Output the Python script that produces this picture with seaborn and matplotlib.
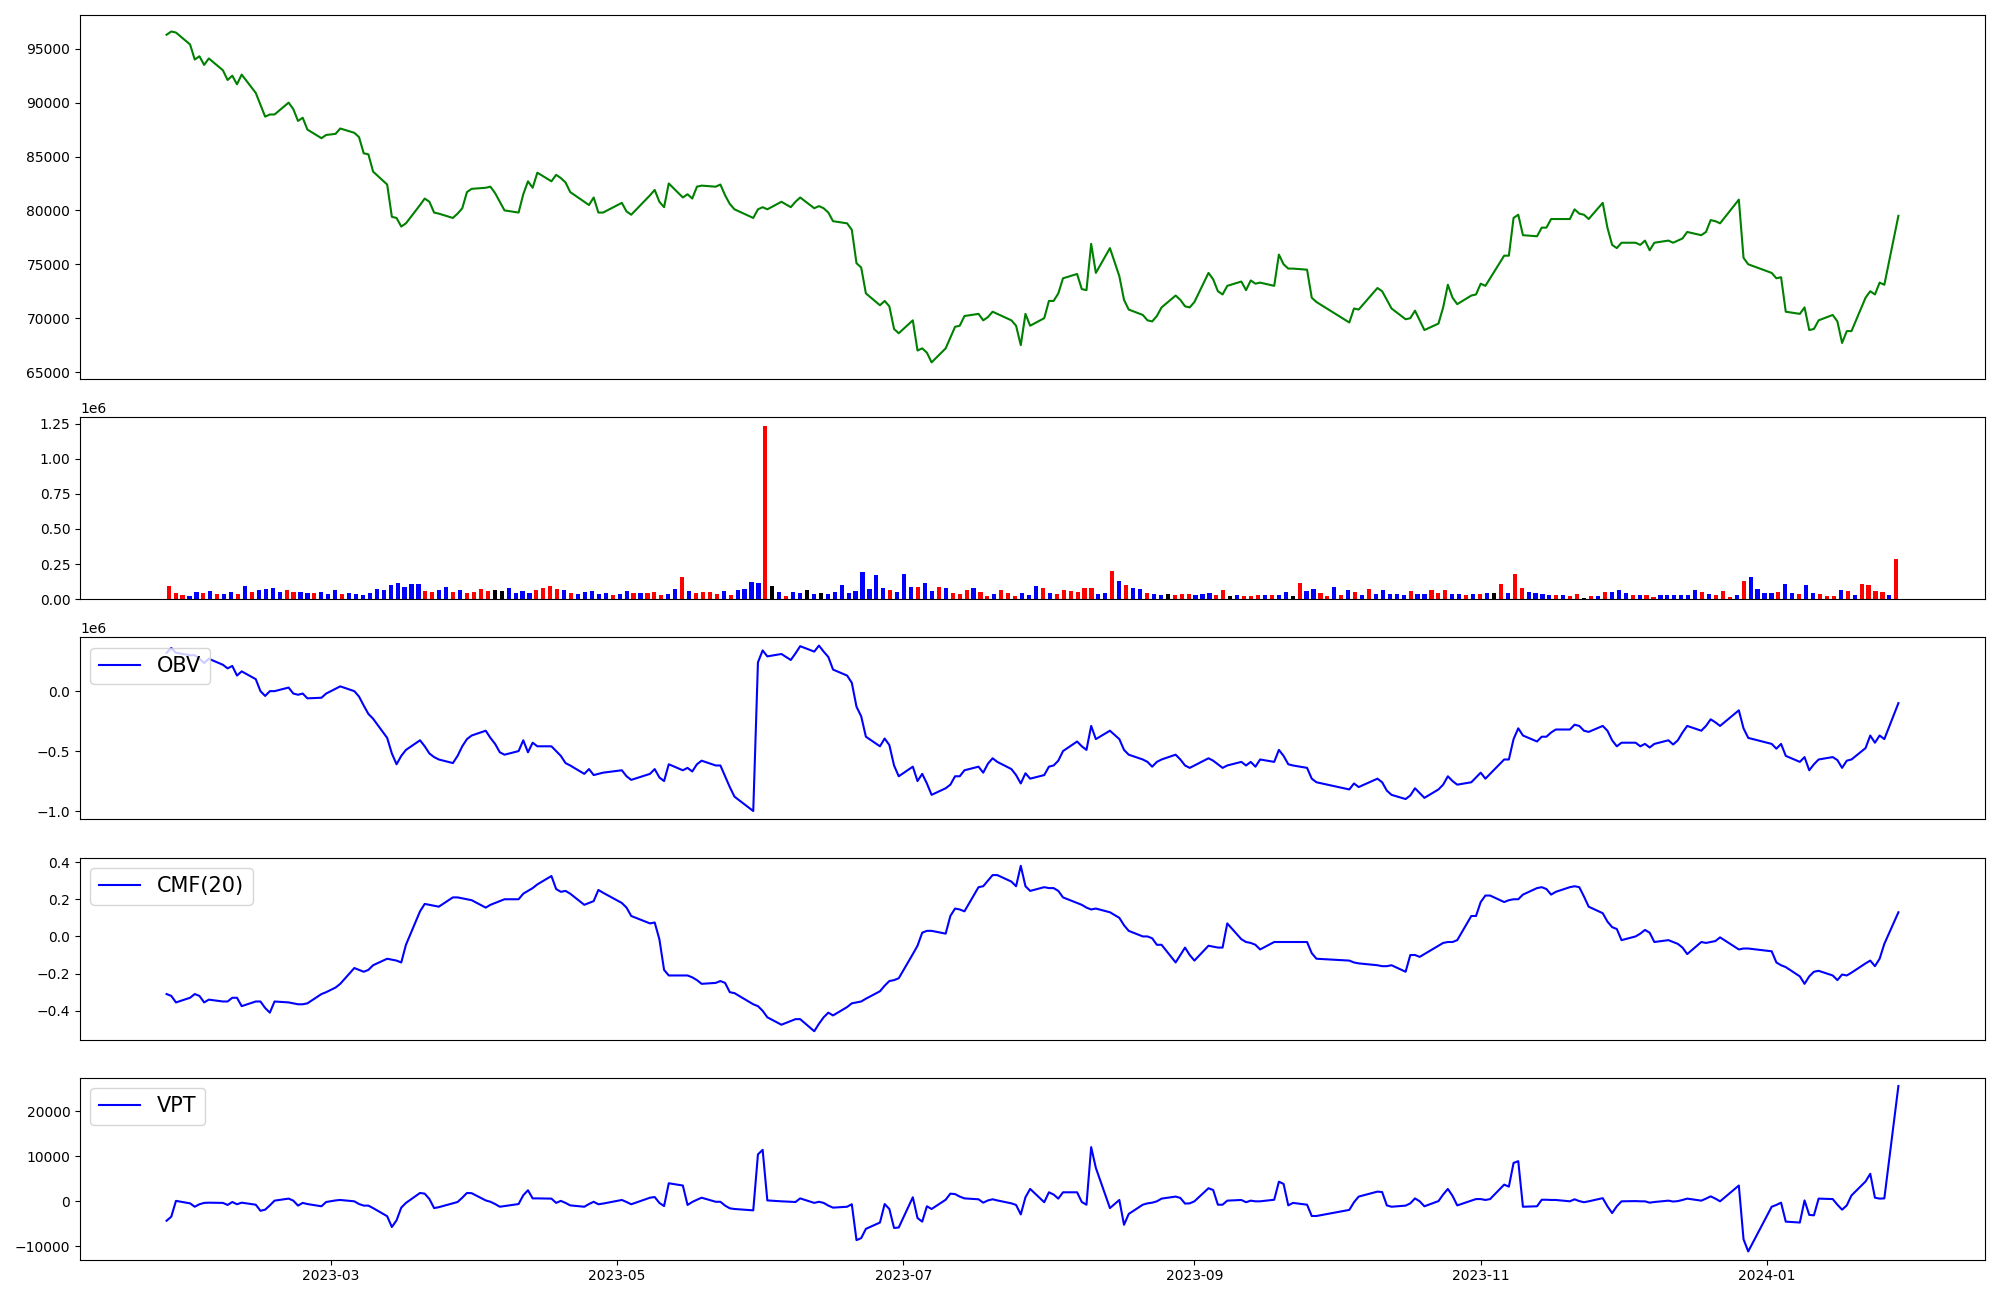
import numpy as np
import pandas as pd
import matplotlib
matplotlib.use("Agg")
import matplotlib.pyplot as plt
import seaborn as sns

# === trading calendar (KRX, 2023-01-25 .. 2024-01-29) ===
KRX_HOLIDAYS = ["2023-03-01", "2023-05-01", "2023-05-05", "2023-05-29", "2023-06-06",
                "2023-08-15", "2023-09-28", "2023-09-29", "2023-10-02", "2023-10-03",
                "2023-10-09", "2023-12-25", "2023-12-29", "2024-01-01"]
dates = pd.bdate_range("2023-01-25", "2024-01-29", freq="C", holidays=KRX_HOLIDAYS)

# close price
price = [
    96300, 96600, 96500, 95400, 94000,  # Jan
    94300, 93500, 94100, 93000, 92100, 92500, 91700, 92600, 90900, 89800,
    88700, 88900, 88900, 90000, 89400, 88300, 88600, 87500, 86700, 87000,  # Feb
    87100, 87600, 87200, 86800, 85300, 85200, 83600, 82400, 79400, 79300, 78500,
    78800, 80500, 81100, 80800, 79800, 79700, 79300, 79700, 80200, 81700, 82000,  # Mar
    82100, 82200, 81600, 80800, 80000, 79800, 81500, 82700, 82100, 83500,
    82700, 83300, 83000, 82600, 81700, 80800, 80500, 81200, 79800, 79800,  # Apr
    80700, 79900, 79600, 81400, 81900, 80800, 80300, 82500, 81200, 81500,
    81100, 82200, 82300, 82200, 82400, 81400, 80600, 80100, 79300, 80100,  # May
    80300, 80100, 80800, 80300, 80800, 81200, 80200, 80400, 80200, 79800, 79000,
    78800, 78200, 75100, 74700, 72300, 71200, 71600, 71100, 69000, 68600,  # Jun
    69800, 67000, 67200, 66800, 65900, 67200, 68200, 69200, 69300, 70200, 70400,
    69800, 70100, 70600, 70400, 69800, 69300, 67500, 70400, 69300, 70000,  # Jul
    71600, 71600, 72300, 73700, 74100, 72700, 72600, 76900, 74200, 76500, 73900,
    71700, 70800, 70300, 69800, 69700, 70200, 71000, 72100, 71700, 71100, 71000,  # Aug
    71500, 74200, 73600, 72500, 72200, 73000, 73400, 72600, 73500, 73200,
    73300, 73000, 75900, 75000, 74600, 74600, 74500, 71900, 71500,  # Sep
    69600, 70900, 70800, 72800, 72500, 71700, 70900, 69900, 70000, 70700,
    69800, 68900, 69500, 71000, 73100, 71900, 71300, 72100, 72200,  # Oct
    73200, 73000, 73700, 75800, 75800, 79300, 79600, 77700, 77600, 78400, 78400,
    79200, 79200, 79200, 80100, 79700, 79600, 79200, 80700, 78400, 76800, 76500,  # Nov
    77000, 77000, 76800, 77200, 76300, 77000, 77200, 77000, 77200, 77400,
    78000, 77700, 78000, 79100, 79000, 78800, 81000, 75600, 75000,  # Dec
    74200, 73700, 73800, 70600, 70400, 71000, 68900, 69000, 69800, 70300,
    69700, 67700, 68800, 68800, 71900, 72500, 72200, 73300, 73100, 79500,  # Jan 2024
]

# daily volume, thousands of shares
volume_k = [
    94, 45, 31, 24, 52, 45, 59, 38, 38, 52, 38, 94, 52, 66, 73, 80,
    52, 66, 52, 52, 45, 45, 52, 38, 66, 38, 45, 38, 31, 45, 73, 66,
    101, 116, 87, 108, 108, 59, 52, 66, 87, 52, 66, 45, 52, 73, 59, 66,
    59, 80, 45, 59, 45, 66, 80, 94, 73, 66, 45, 38, 52, 59, 38, 45,
    31, 38, 59, 45, 45, 45, 52, 31, 38, 73, 158, 59, 45, 52, 52, 38,
    59, 31, 66, 73, 123, 116, 1235, 94, 52, 24, 52, 45, 66, 38, 45, 38,
    52, 101, 45, 59, 193, 73, 172, 80, 66, 52, 179, 87, 87, 116, 59, 87,
    80, 45, 38, 66, 80, 52, 24, 38, 66, 45, 24, 45, 31, 94, 80, 45,
    38, 66, 59, 52, 80, 80, 38, 45, 200, 130, 101, 80, 73, 45, 38, 31,
    38, 31, 38, 38, 31, 38, 45, 31, 66, 24, 31, 24, 24, 31, 31, 31,
    31, 52, 24, 116, 59, 73, 45, 24, 87, 31, 66, 52, 31, 73, 38, 66,
    38, 38, 31, 59, 38, 38, 66, 45, 66, 38, 38, 31, 38, 38, 45, 45,
    108, 45, 179, 80, 52, 45, 38, 31, 31, 31, 24, 38, 9, 24, 24, 52,
    52, 66, 45, 31, 31, 31, 17, 31, 31, 31, 31, 31, 66, 52, 38, 31,
    59, 17, 31, 130, 158, 73, 45, 45, 52, 108, 45, 38, 101, 45, 38, 24,
    24, 66, 59, 31, 108, 101, 59, 52, 31, 285,
]

# bar colour code per day: r = up, b = down, k = unchanged
direction = list(
    "rrrbbrbrbbrbrbbb" "brrbbrbbbrbbbbbb" "bbbbbrrbbrbrrrrk" "kbbbbrrrrbrbbbbb"
    "rbbrbrrrbbrbrrrr" "brbbbbrkbrbbkbkb" "bbbbbbbbrbbbrbbr" "brrrbrrbrrrbbbrb"
    "rrrrrrbbrbrbbrbb" "krrrbbbrrkbrrrbr" "bbkrbbrrbrbrbrbb" "bbbrbbrrrbbrbrbk"
    "rbrrbbbbrbrrkrbr" "bbbrbrrbbbbbbrbr" "rrbrbbbbrbbrbbrr" "rbrbrrrrbr"
)

# on-balance volume, millions
obv_m = [
    0.32, 0.36, 0.32, 0.30, 0.30,
    0.27, 0.235, 0.27, 0.22, 0.19, 0.21, 0.13, 0.165, 0.10, 0.0,
    -0.04, 0.0, 0.0, 0.03, -0.02, -0.03, -0.02, -0.06, -0.055, -0.02,
    0.02, 0.04, 0.0, -0.045, -0.12, -0.19, -0.23, -0.39, -0.52, -0.61, -0.54,
    -0.49, -0.41, -0.46, -0.52, -0.55, -0.57, -0.60, -0.54, -0.46, -0.40, -0.37,
    -0.33, -0.39, -0.44, -0.51, -0.53, -0.50, -0.41, -0.51, -0.43, -0.46,
    -0.46, -0.50, -0.54, -0.60, -0.62, -0.69, -0.65, -0.70, -0.69, -0.68,
    -0.66, -0.71, -0.74, -0.69, -0.65, -0.72, -0.75, -0.61, -0.66, -0.64,
    -0.67, -0.61, -0.58, -0.62, -0.62, -0.71, -0.80, -0.88, -1.0, 0.24,
    0.34, 0.29, 0.31, 0.26, 0.315, 0.375, 0.33, 0.38, 0.33, 0.285, 0.18,
    0.13, 0.07, -0.13, -0.21, -0.38, -0.46, -0.395, -0.45, -0.62, -0.71,
    -0.63, -0.75, -0.69, -0.77, -0.865, -0.81, -0.78, -0.71, -0.71, -0.66, -0.63,
    -0.68, -0.605, -0.56, -0.59, -0.65, -0.70, -0.77, -0.685, -0.73, -0.70,
    -0.63, -0.62, -0.58, -0.50, -0.42, -0.46, -0.49, -0.29, -0.40, -0.33, -0.40,
    -0.49, -0.53, -0.57, -0.59, -0.63, -0.59, -0.57, -0.53, -0.57, -0.62, -0.64,
    -0.62, -0.56, -0.58, -0.61, -0.64, -0.62, -0.59, -0.62, -0.59, -0.63,
    -0.57, -0.59, -0.49, -0.54, -0.61, -0.62, -0.64, -0.73, -0.76,
    -0.82, -0.77, -0.80, -0.73, -0.76, -0.83, -0.865, -0.90, -0.87, -0.81,
    -0.85, -0.89, -0.82, -0.78, -0.71, -0.75, -0.78, -0.76, -0.72,
    -0.68, -0.73, -0.69, -0.57, -0.57, -0.40, -0.31, -0.37, -0.42, -0.38, -0.38,
    -0.345, -0.32, -0.32, -0.28, -0.29, -0.33, -0.34, -0.29, -0.33, -0.41, -0.46,
    -0.43, -0.43, -0.46, -0.44, -0.47, -0.44, -0.41, -0.445, -0.41, -0.345,
    -0.29, -0.33, -0.29, -0.235, -0.26, -0.29, -0.16, -0.31, -0.39,
    -0.44, -0.48, -0.44, -0.54, -0.59, -0.55, -0.66, -0.61, -0.57, -0.55,
    -0.575, -0.64, -0.58, -0.57, -0.475, -0.37, -0.43, -0.37, -0.40, -0.10,
]

# Chaikin money flow, 20 days
cmf = [
    -0.31, -0.32, -0.355, -0.33, -0.31,
    -0.32, -0.355, -0.34, -0.35, -0.35, -0.33, -0.33, -0.375, -0.35, -0.35,
    -0.385, -0.41, -0.35, -0.355, -0.36, -0.365, -0.365, -0.36, -0.31, -0.30,
    -0.275, -0.255, -0.17, -0.18, -0.19, -0.18, -0.155, -0.12, -0.125, -0.13, -0.14,
    -0.045, 0.135, 0.175, 0.17, 0.165, 0.16, 0.21, 0.21, 0.205, 0.20, 0.195,
    0.155, 0.17, 0.18, 0.19, 0.20, 0.20, 0.23, 0.245, 0.26, 0.28,
    0.325, 0.255, 0.24, 0.245, 0.23, 0.17, 0.18, 0.19, 0.25, 0.235,
    0.18, 0.155, 0.11, 0.07, 0.075, -0.015, -0.18, -0.21, -0.21, -0.21,
    -0.22, -0.235, -0.255, -0.25, -0.24, -0.25, -0.30, -0.305, -0.365, -0.375,
    -0.40, -0.435, -0.475, -0.455, -0.445, -0.445, -0.51, -0.47, -0.435, -0.41, -0.425,
    -0.38, -0.36, -0.355, -0.35, -0.335, -0.295, -0.265, -0.24, -0.235, -0.225,
    -0.095, -0.05, 0.02, 0.03, 0.03, 0.015, 0.11, 0.15, 0.145, 0.135, 0.265,
    0.27, 0.30, 0.33, 0.33, 0.295, 0.27, 0.38, 0.27, 0.245, 0.265,
    0.26, 0.26, 0.245, 0.21, 0.18, 0.17, 0.155, 0.145, 0.15, 0.13, 0.10,
    0.06, 0.03, 0.0, 0.0, -0.01, -0.045, -0.045, -0.14, -0.10, -0.06, -0.10,
    -0.13, -0.05, -0.055, -0.06, -0.06, 0.07, -0.015, -0.03, -0.035, -0.045,
    -0.07, -0.03, -0.03, -0.03, -0.03, -0.03, -0.03, -0.09, -0.12,
    -0.13, -0.14, -0.145, -0.155, -0.16, -0.16, -0.155, -0.19, -0.10, -0.10,
    -0.11, -0.095, -0.05, -0.035, -0.03, -0.03, -0.02, 0.11, 0.11,
    0.185, 0.22, 0.22, 0.185, 0.195, 0.20, 0.20, 0.225, 0.26, 0.265, 0.255,
    0.225, 0.24, 0.265, 0.27, 0.265, 0.215, 0.16, 0.125, 0.08, 0.05, 0.04,
    -0.02, 0.0, 0.015, 0.035, 0.02, -0.03, -0.02, -0.03, -0.04, -0.06,
    -0.095, -0.03, -0.035, -0.03, -0.025, -0.005, -0.07, -0.065, -0.065,
    -0.08, -0.14, -0.155, -0.165, -0.215, -0.255, -0.215, -0.19, -0.185, -0.21,
    -0.235, -0.205, -0.21, -0.195, -0.145, -0.13, -0.16, -0.12, -0.04, 0.13,
]

# volume price trend
vpt = [
    -4300, -3400, 100, -450, -1200,
    -650, -350, -300, -350, -800, -150, -650, -300, -750, -2100,
    -1850, -900, 150, 600, 150, -950, -350, -600, -1100, -150,
    200, 300, 0, -600, -950, -950, -1500, -3300, -5700, -4200, -1400,
    -350, 1850, 1700, 500, -1500, -1300, -450, -150, 800, 1850, 1800,
    200, -100, -600, -1200, -1050, -600, 1350, 2450, 650, 650,
    600, -350, 100, -350, -900, -1200, -600, -100, -650, -500,
    300, -150, -650, 800, 950, -350, -1050, 4000, 3500, -800,
    -150, 350, 800, -100, -100, -950, -1550, -1700, -2000, 10400,
    11400, 200, 0, -100, -150, 650, -350, -100, -350, -950, -1400,
    -1200, -650, -8600, -8150, -6100, -4700, -600, -1700, -5900, -5800,
    900, -3700, -4500, -1100, -1700, 350, 1700, 1600, 1050, 650, 450,
    -300, 200, 450, 200, -450, -800, -2900, 900, 2750, -200,
    2000, 1500, 600, 2000, 2000, -150, -750, 12000, 7400, -1500, 300,
    -5200, -2800, -750, -450, -300, 0, 600, 1050, 750, -500, -450,
    0, 2900, 2500, -750, -750, 150, 300, -200, 150, 0,
    0, 350, 4350, 3850, -900, -350, -750, -3250, -3250,
    -1900, -200, 1050, 2150, 2050, -900, -1200, -950, -450, 650,
    0, -1100, 50, 1500, 2750, 1200, -900, 150, 500,
    500, 300, 500, 3700, 3250, 8500, 8900, -1200, -1100, 350, 350,
    300, 300, 0, 450, 50, -200, 0, 700, -1100, -2600, -1100,
    0, 50, 0, 0, -300, -150, 150, -50, 50, 300,
    600, 150, 600, 1100, 600, 0, 3500, -8400, -11100,
    -1200, -800, -300, -4500, -4700, 200, -3000, -3100, 600, 500,
    -750, -1850, -900, 1300, 4400, 6100, 800, 600, 650, 25550,
]

N = len(dates)
for name, arr in [("price", price), ("volume", volume_k), ("direction", direction),
                  ("obv", obv_m), ("cmf", cmf), ("vpt", vpt)]:
    assert len(arr) == N, f"{name}: {len(arr)} != {N}"

volume = np.array(volume_k) * 1_000
obv = np.array(obv_m) * 1_000_000

# === Plot ===
fig = plt.figure(figsize=(20, 13), dpi=100)
gs = fig.add_gridspec(5, 1, height_ratios=[2, 1, 1, 1, 1],
                      left=0.04, right=0.9925, top=0.9885, bottom=0.031, hspace=0.175)
ax_price = fig.add_subplot(gs[0])
ax_vol = fig.add_subplot(gs[1])
ax_obv = fig.add_subplot(gs[2], sharex=ax_price)
ax_cmf = fig.add_subplot(gs[3], sharex=ax_price)
ax_vpt = fig.add_subplot(gs[4], sharex=ax_price)

sns.lineplot(x=dates, y=np.array(price), color="green", ax=ax_price)

# volume bars sit on an index axis stretched over the same span as the dates
bar_df = pd.DataFrame({"idx": np.arange(N), "volume": volume, "dir": direction})
sns.barplot(data=bar_df, x="idx", y="volume", hue="dir",
            palette={"r": "red", "b": "blue", "k": "black"},
            dodge=False, width=0.6, saturation=1, errorbar=None,
            legend=False, linewidth=0, ax=ax_vol)
span = (N - 1) + 0.6
ax_vol.set_xlim(-0.3 - 0.05 * span, N - 1 + 0.3 + 0.05 * span)

sns.lineplot(x=dates, y=obv, color="blue", label="OBV", ax=ax_obv)
sns.lineplot(x=dates, y=np.array(cmf), color="blue", label="CMF(20)", ax=ax_cmf)
sns.lineplot(x=dates, y=np.array(vpt), color="blue", label="VPT", ax=ax_vpt)

for ax in (ax_obv, ax_cmf, ax_vpt):
    ax.legend(loc="upper left", fontsize=15)

for ax in (ax_price, ax_vol, ax_obv, ax_cmf):
    ax.tick_params(axis="x", bottom=False, labelbottom=False)
for ax in (ax_price, ax_vol, ax_obv, ax_cmf, ax_vpt):
    ax.set_xlabel("")
    ax.set_ylabel("")

fig.savefig("out.png", dpi=100)
